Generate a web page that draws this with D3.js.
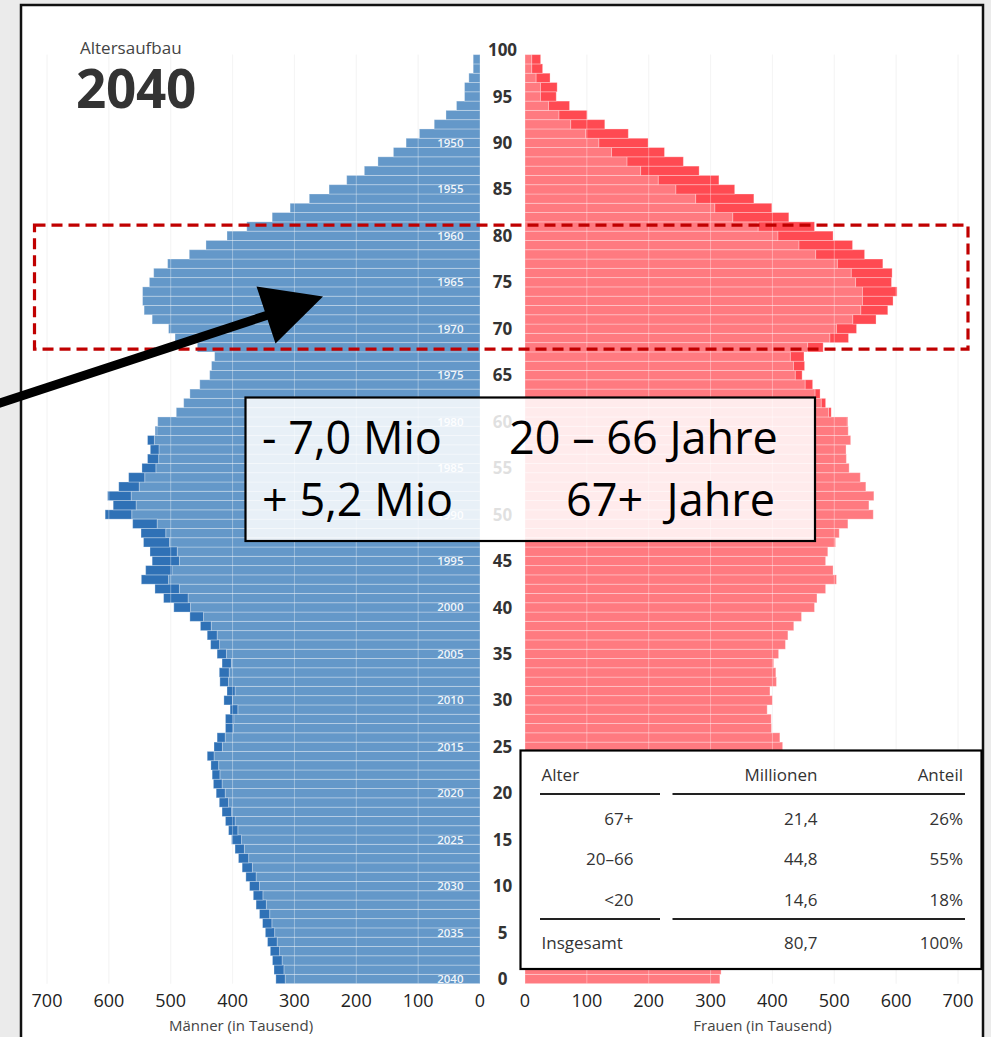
<!DOCTYPE html>
<html>
<head>
<meta charset="utf-8">
<script src="https://cdn.jsdelivr.net/npm/d3@7"></script>
<style>
  html, body { margin: 0; padding: 0; background: #ebebeb; }
  svg { display: block; }
  text { font-family: "Open Sans", "Noto Sans", sans-serif; }
</style>
</head>
<body>
<svg id="chart" width="991" height="1037"></svg>
<script>
// ---- data (thousands of persons, age 0..99, year 2040) ----
const ages = d3.range(0, 100);
const menValues = [
  330, 333, 335.5, 339, 343.5, 347, 351.5, 356.5, 362, 366.5,
  372.5, 378.5, 384.5, 390.5, 396, 401.5, 406.5, 411.5, 417, 421.5,
  426.5, 431, 433, 435, 441, 430, 425, 411.5, 411.5, 404,
  414, 409, 420.5, 421.5, 417, 425, 435.5, 441, 452, 469,
  495, 511.5, 525.5, 547.5, 540.5, 530, 533.5, 544, 548, 561.5,
  606, 593, 602, 584, 568, 546.5, 537.5, 533, 537.5, 525,
  521, 491, 479, 469, 453, 437, 434, 429, 457, 493,
  503.5, 530, 543, 545.5, 545.5, 534.5, 527.5, 505, 470, 443,
  409, 377, 336, 307, 276, 244, 215.5, 187, 165, 140,
  119.5, 98, 74, 55, 38, 25, 25, 18, 11, 11
];
const womenValues = [
  315, 317, 320, 324, 328, 332, 336.5, 340, 345.5, 351,
  356.5, 362, 368, 374, 381, 385.5, 391.5, 396, 401.5, 406.5,
  412, 417, 420.5, 422.5, 430, 416.5, 412, 398.5, 398, 391.5,
  400, 396, 406.5, 405.5, 402, 410, 421, 425, 434.5, 447,
  468, 472, 486, 503.5, 498, 486, 489.5, 502, 508, 522,
  563, 556, 564, 551, 542, 524, 519.5, 519, 526.5, 522.5,
  522, 495, 486, 477, 465, 448, 452, 451, 482, 523,
  536, 567.5, 586.5, 595, 601.5, 592.5, 593.5, 578.5, 549, 529.5,
  498, 468, 426.5, 399, 370, 339, 313.5, 281.5, 256, 225.5,
  199, 167, 129, 100.5, 72, 50.5, 52, 40.5, 28.5, 25.3
];
const xTicks = [0, 100, 200, 300, 400, 500, 600, 700];
const ageTicks = d3.range(0, 101, 5);
const yearLabelAges = d3.range(0, 91, 5);
const baseYear = 2040;

const tableHeader = ["Alter", "Millionen", "Anteil"];
const tableGroups = ["67+", "20–66", "<20"];
const tableMillions = ["21,4", "44,8", "14,6"];
const tableShares = ["26%", "55%", "18%"];
const tableTotal = ["Insgesamt", "80,7", "100%"];

const boxLeftTexts = ["- 7,0 Mio", "+ 5,2 Mio"];
const boxRightTexts = ["20 – 66 Jahre", "67+\u00a0 Jahre"];

// ---- colours ----
const C = {
  menLight: "#6498c9", menDark: "#2f71b6",
  womenLight: "#ff7a80", womenDark: "#ff4a52",
  text: "#333"
};

const svg = d3.select("#chart");
const W = 991, H = 1037;

// scales
const xMen = d3.scaleLinear().domain([0, 700]).range([480, 47]);
const xWomen = d3.scaleLinear().domain([0, 700]).range([525, 958]);
const yBand = d3.scaleBand().domain(d3.range(100, -1, -1)).range([45.35, 983.65]).padding(0);
const yLin = d3.scaleLinear().domain([0, 100]).range([979, 50]);
const bw = yBand.bandwidth();
const yc = a => yBand(a) + bw / 2;

// background and panel
svg.append("rect").attr("width", W).attr("height", H).attr("fill", "#ebebeb");
svg.append("rect").attr("x", 21).attr("y", 5).attr("width", 962).attr("height", 1060)
  .attr("fill", "#fff").attr("stroke", "#111").attr("stroke-width", 2.5);

// background grid
const gridTop = yBand(99), gridBottom = yBand(0) + bw;
const gBack = svg.append("g");
xTicks.filter(d => d > 0).forEach(t => {
  [xMen(t), xWomen(t)].forEach(x => {
    gBack.append("line").attr("x1", x).attr("x2", x).attr("y1", gridTop).attr("y2", gridBottom)
      .attr("stroke", "#f0f0f0").attr("stroke-width", 1);
  });
});

// bars: light part = common value of both sexes, dark part = surplus
const data = ages.map(a => ({ age: a, m: menValues[a], w: womenValues[a], base: Math.min(menValues[a], womenValues[a]) }));
const gBars = svg.append("g").attr("stroke", "rgba(255,255,255,0.32)").attr("stroke-width", 0.9);

gBars.selectAll(".ml").data(data).join("rect")
  .attr("x", d => xMen(d.base)).attr("y", d => yBand(d.age))
  .attr("width", d => xMen(0) - xMen(d.base)).attr("height", bw)
  .attr("fill", C.menLight);
gBars.selectAll(".md").data(data.filter(d => d.m > d.base)).join("rect")
  .attr("x", d => xMen(d.m)).attr("y", d => yBand(d.age))
  .attr("width", d => xMen(d.base) - xMen(d.m)).attr("height", bw)
  .attr("fill", C.menDark);
gBars.selectAll(".wl").data(data).join("rect")
  .attr("x", xWomen(0)).attr("y", d => yBand(d.age))
  .attr("width", d => xWomen(d.base) - xWomen(0)).attr("height", bw)
  .attr("fill", C.womenLight);
gBars.selectAll(".wd").data(data.filter(d => d.w > d.base)).join("rect")
  .attr("x", d => xWomen(d.base)).attr("y", d => yBand(d.age))
  .attr("width", d => xWomen(d.w) - xWomen(d.base)).attr("height", bw)
  .attr("fill", C.womenDark);

// overlay grid (lighter lines across bars)
const gFront = svg.append("g");
xTicks.filter(d => d > 0).forEach(t => {
  [xMen(t), xWomen(t)].forEach(x => {
    gFront.append("line").attr("x1", x).attr("x2", x).attr("y1", gridTop).attr("y2", gridBottom)
      .attr("stroke", "rgba(255,255,255,0.35)").attr("stroke-width", 1);
  });
});

// birth-year labels inside men bars
svg.append("g").selectAll("text").data(yearLabelAges).join("text")
  .attr("x", 463.5).attr("y", d => yc(d)).attr("dy", "0.35em")
  .attr("text-anchor", "end").attr("fill", "#fff").attr("fill-opacity", 0.92)
  .attr("font-size", 11.5).attr("font-weight", 600)
  .text(d => baseYear - d);

// age labels
svg.append("g").selectAll("text").data(ageTicks).join("text")
  .attr("x", 502.5).attr("y", d => yc(d)).attr("dy", "0.36em")
  .attr("text-anchor", "middle").attr("fill", C.text)
  .attr("font-size", 17).attr("font-weight", 700)
  .text(d => d);

// x axes tick labels
const axisY = 1001;
const gAxis = svg.append("g").attr("font-size", 18).attr("fill", "#222");
gAxis.selectAll(".tm").data(xTicks).join("text")
  .attr("x", d => xMen(d)).attr("y", axisY).attr("dy", "0.36em")
  .attr("text-anchor", "middle").text(d => d);
gAxis.selectAll(".tw").data(xTicks).join("text")
  .attr("x", d => xWomen(d)).attr("y", axisY).attr("dy", "0.36em")
  .attr("text-anchor", "middle").text(d => d);

svg.append("text").attr("x", 241).attr("y", 1026).attr("dy", "0.36em")
  .attr("text-anchor", "middle").attr("font-size", 15).attr("fill", "#444")
  .text("Männer (in Tausend)");
svg.append("text").attr("x", 762.5).attr("y", 1026).attr("dy", "0.36em")
  .attr("text-anchor", "middle").attr("font-size", 15).attr("fill", "#444")
  .text("Frauen (in Tausend)");

// title
svg.append("text").attr("x", 80).attr("y", 54).attr("font-size", 17).attr("fill", "#444")
  .text("Altersaufbau");
svg.append("text").attr("x", 76).attr("y", 108).attr("font-size", 53).attr("font-weight", 700)
  .attr("fill", "#333").attr("letter-spacing", -0.3).text("2040");

// red dashed highlight box (ages ~68-81)
svg.append("rect")
  .attr("x", 34.5).attr("y", yLin(81.15))
  .attr("width", 968 - 34.5).attr("height", yLin(67.8) - yLin(81.15))
  .attr("fill", "none").attr("stroke", "#c00000").attr("stroke-width", 3.2)
  .attr("stroke-dasharray", "11,6");

// black arrow
svg.append("line").attr("x1", -6).attr("y1", 405).attr("x2", 268).attr("y2", 315)
  .attr("stroke", "#000").attr("stroke-width", 9);
svg.append("path").attr("d", "M323,296.5 L256.5,286.5 L275.5,343.5 Z").attr("fill", "#000");

// annotation text box
svg.append("rect").attr("x", 245.5).attr("y", 397.5).attr("width", 569.5).attr("height", 143.5)
  .attr("fill", "#fff").attr("fill-opacity", 0.85).attr("stroke", "#000").attr("stroke-width", 2.2);
const gBox = svg.append("g").attr("font-size", 45).attr("fill", "#000")
  .style("font-family", "'Liberation Sans', Arial, sans-serif");
gBox.append("text").attr("x", 262).attr("y", 454).text(boxLeftTexts[0]);
gBox.append("text").attr("x", 262).attr("y", 515.5).text(boxLeftTexts[1]);
gBox.append("text").attr("x", 509).attr("y", 454).text(boxRightTexts[0]);
gBox.append("text").attr("x", 566).attr("y", 515.5).text(boxRightTexts[1]);

// summary table
svg.append("rect").attr("x", 520.5).attr("y", 750.5).attr("width", 461).attr("height", 218.5)
  .attr("fill", "#fff").attr("stroke", "#000").attr("stroke-width", 2.2);
const gT = svg.append("g").attr("font-size", 17).attr("fill", C.text);
const colX = [541.5, 817.5, 963];
const rowY = [774.5, 818.5, 858.5, 899.5, 942.5];
gT.append("text").attr("x", colX[0]).attr("y", rowY[0]).attr("dy", "0.36em").text(tableHeader[0]);
gT.append("text").attr("x", colX[1]).attr("y", rowY[0]).attr("dy", "0.36em").attr("text-anchor", "end").text(tableHeader[1]);
gT.append("text").attr("x", colX[2]).attr("y", rowY[0]).attr("dy", "0.36em").attr("text-anchor", "end").text(tableHeader[2]);
tableGroups.forEach((g, i) => {
  const y = rowY[i + 1];
  gT.append("text").attr("x", 633.5).attr("y", y).attr("dy", "0.36em").attr("text-anchor", "end").text(g);
  gT.append("text").attr("x", colX[1]).attr("y", y).attr("dy", "0.36em").attr("text-anchor", "end").text(tableMillions[i]);
  gT.append("text").attr("x", colX[2]).attr("y", y).attr("dy", "0.36em").attr("text-anchor", "end").text(tableShares[i]);
});
gT.append("text").attr("x", colX[0]).attr("y", rowY[4]).attr("dy", "0.36em").text(tableTotal[0]);
gT.append("text").attr("x", colX[1]).attr("y", rowY[4]).attr("dy", "0.36em").attr("text-anchor", "end").text(tableTotal[1]);
gT.append("text").attr("x", colX[2]).attr("y", rowY[4]).attr("dy", "0.36em").attr("text-anchor", "end").text(tableTotal[2]);
[794, 919].forEach(y => {
  gT.append("line").attr("x1", 540).attr("x2", 660).attr("y1", y).attr("y2", y).attr("stroke", "#222").attr("stroke-width", 1.8);
  gT.append("line").attr("x1", 672.5).attr("x2", 965).attr("y1", y).attr("y2", y).attr("stroke", "#222").attr("stroke-width", 1.8);
});
</script>
</body>
</html>
